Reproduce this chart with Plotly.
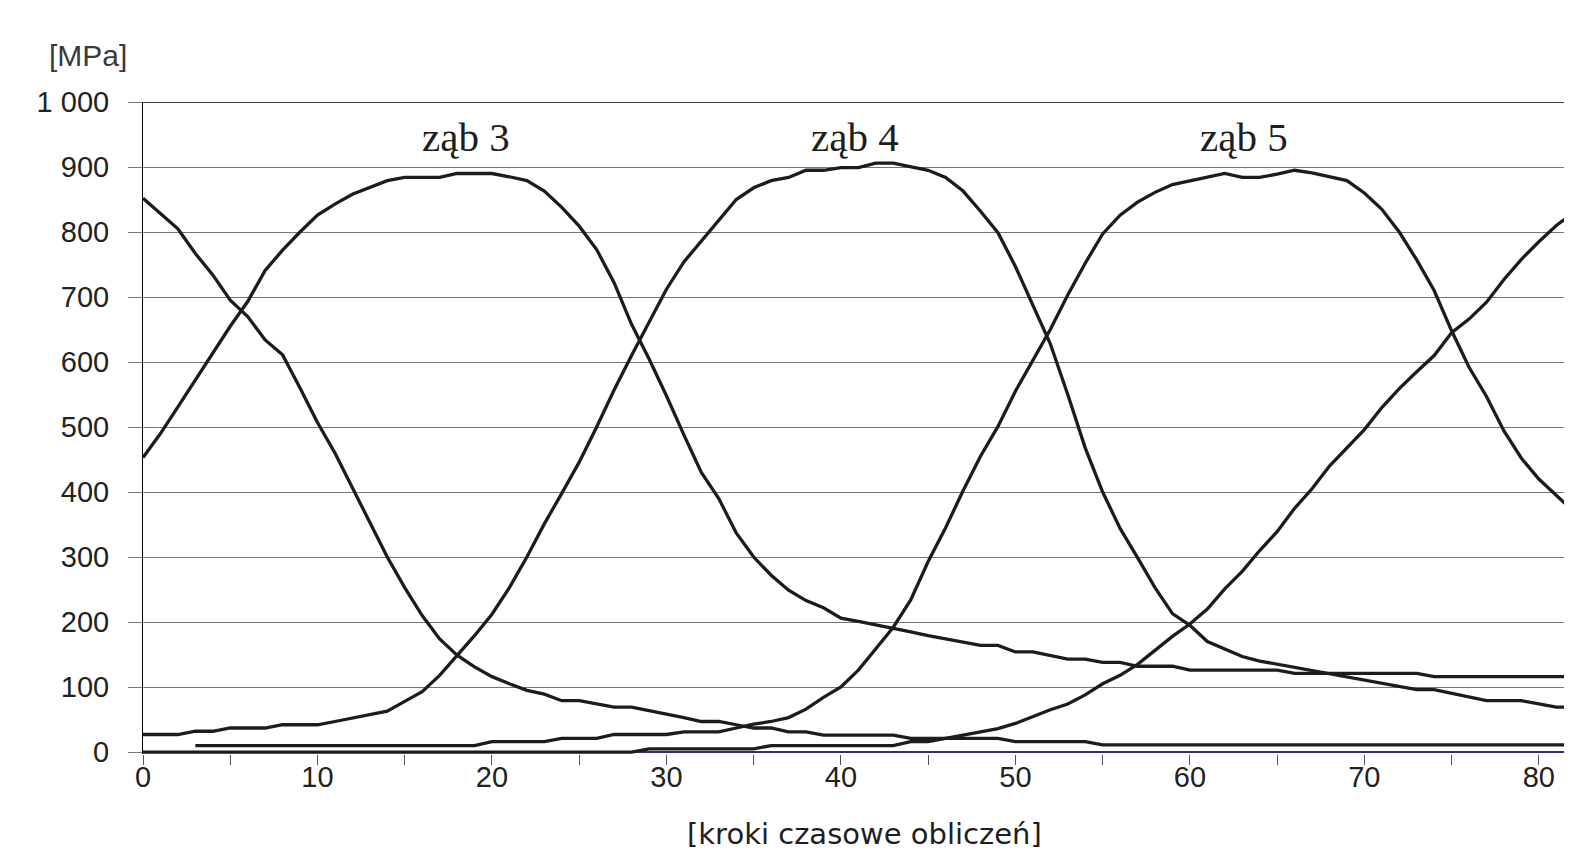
import plotly.graph_objects as go

# ---- data ----
steps = [0, 1, 2, 3, 4, 5, 6, 7, 8, 9,
         10, 11, 12, 13, 14, 15, 16, 17, 18, 19,
         20, 21, 22, 23, 24, 25, 26, 27, 28, 29,
         30, 31, 32, 33, 34, 35, 36, 37, 38, 39,
         40, 41, 42, 43, 44, 45, 46, 47, 48, 49,
         50, 51, 52, 53, 54, 55, 56, 57, 58, 59,
         60, 61, 62, 63, 64, 65, 66, 67, 68, 69,
         70, 71, 72, 73, 74, 75, 76, 77, 78, 79,
         80, 81, 82]

tooth2 = [852, 828, 805, 767, 734, 695, 670, 634, 611, 560,
          507, 460, 407, 352, 300, 253, 210, 174, 149, 131,
          116, 105, 95, 89, 79, 79, 74, 69, 69, 64,
          58, 53, 47, 47, 42, 37, 37, 31, 31, 26,
          26, 26, 26, 26, 21, 21, 21, 21, 21, 21,
          16, 16, 16, 16, 16, 11, 11, 11, 11, 11,
          11, 11, 11, 11, 11, 11, 11, 11, 11, 11,
          11, 11, 11, 11, 11, 11, 11, 11, 11, 11,
          11, 11, 11]

tooth3 = [453, 490, 531, 572, 614, 655, 693, 741, 772, 800,
          826, 843, 858, 869, 879, 884, 884, 884, 890, 890,
          890, 885, 879, 863, 838, 809, 773, 722, 658, 605,
          548, 488, 430, 390, 337, 300, 272, 249, 233, 222,
          206, 201, 196, 191, 185, 179, 174, 168, 164, 164,
          154, 154, 148, 143, 143, 138, 138, 132, 132, 132,
          126, 126, 126, 126, 126, 126, 121, 121, 121, 121,
          121, 121, 121, 121, 116, 116, 116, 116, 116, 116,
          116, 116, 116]

tooth4 = [27, 27, 27, 32, 32, 37, 37, 37, 42, 42,
          42, 47, 52, 57, 63, 78, 93, 118, 149, 179,
          212, 253, 300, 351, 398, 446, 500, 557, 610, 662,
          712, 754, 786, 818, 850, 868, 879, 884, 895, 895,
          899, 899, 906, 906, 900, 895, 884, 863, 832, 799,
          747, 688, 628, 550, 468, 400, 344, 299, 253, 213,
          195, 170, 158, 147, 140, 135, 130, 125, 120, 115,
          110, 105, 100, 96, 96, 90, 84, 79, 79, 79,
          74, 69, 69]

steps5 = [3, 4, 5, 6, 7, 8, 9,
          10, 11, 12, 13, 14, 15, 16, 17, 18, 19,
          20, 21, 22, 23, 24, 25, 26, 27, 28, 29,
          30, 31, 32, 33, 34, 35, 36, 37, 38, 39,
          40, 41, 42, 43, 44, 45, 46, 47, 48, 49,
          50, 51, 52, 53, 54, 55, 56, 57, 58, 59,
          60, 61, 62, 63, 64, 65, 66, 67, 68, 69,
          70, 71, 72, 73, 74, 75, 76, 77, 78, 79,
          80, 81, 82]

tooth5 = [10, 10, 10, 10, 10, 10, 10,
          10, 10, 10, 10, 10, 10, 10, 10, 10, 10,
          16, 16, 16, 16, 21, 21, 21, 27, 27, 27,
          27, 31, 31, 31, 37, 43, 47, 53, 66, 84,
          100, 126, 159, 192, 234, 293, 345, 402, 455, 501,
          555, 602, 650, 703, 752, 797, 826, 846, 861, 873,
          879, 884, 890, 884, 884, 889, 895, 891, 885, 879,
          860, 835, 800, 757, 710, 648, 592, 547, 494, 452,
          420, 395, 370]

tooth6 = [0, 0, 0, 0, 0, 0, 0, 0, 0, 0,
          0, 0, 0, 0, 0, 0, 0, 0, 0, 0,
          0, 0, 0, 0, 0, 0, 0, 0, 0, 5,
          5, 5, 5, 5, 5, 5, 10, 10, 10, 10,
          10, 10, 10, 10, 16, 16, 21, 26, 31, 36,
          44, 55, 65, 74, 88, 105, 118, 135, 157, 178,
          197, 220, 251, 278, 310, 339, 375, 405, 440, 468,
          496, 530, 559, 585, 610, 645, 666, 692, 727, 758,
          785, 810, 830]

y_ticks = [0, 100, 200, 300, 400, 500, 600, 700, 800, 900, 1000]
y_ticktext = ["0", "100", "200", "300", "400", "500", "600", "700", "800", "900", "1 000"]
x_ticks = [0, 10, 20, 30, 40, 50, 60, 70, 80]
x_ticktext = ["0", "10", "20", "30", "40", "50", "60", "70", "80"]

tooth_labels = ["ząb 3", "ząb 4", "ząb 5"]
tooth_label_x = [18.5, 40.8, 63.1]

# ---- geometry (page body adds an 8 px offset) ----
W, H = 1564, 846
ML, MT, MB = 135, 94, 100
PW, PH = W - ML, H - MT - MB
PBOT = MT + PH

LINE = dict(color="#1c1c1c", width=3.3)
fig = go.Figure()
for xs, ys in [(steps, tooth2), (steps, tooth3), (steps, tooth4),
               (steps5, tooth5), (steps, tooth6)]:
    fig.add_trace(go.Scatter(x=xs, y=ys, mode="lines", line=LINE,
                             hoverinfo="skip"))

tick_font = dict(family="Liberation Sans, Arial, sans-serif", size=29, color="#222222")

fig.update_layout(
    width=W, height=H,
    margin=dict(l=ML, r=0, t=MT, b=MB),
    plot_bgcolor="white", paper_bgcolor="white",
    showlegend=False,
    xaxis=dict(
        range=[0, 81.9], tickvals=x_ticks, ticktext=x_ticktext,
        ticks="outside", ticklen=10, tickwidth=1.3, tickcolor="#555555",
        minor=dict(dtick=5, tick0=0, ticks="outside", ticklen=10,
                   tickwidth=1.3, tickcolor="#555555", showgrid=False),
        showgrid=False, zeroline=False, showline=False,
        tickfont=tick_font, ticklabelstandoff=-13,
    ),
    yaxis=dict(
        range=[-3, 1000], tickvals=y_ticks, ticktext=y_ticktext,
        ticks="outside", ticklen=14, tickwidth=1.3, tickcolor="#777777",
        showgrid=True, gridcolor="#767676", gridwidth=1,
        zeroline=True, zerolinecolor="#2e3172", zerolinewidth=2,
        showline=True, linecolor="#000000", linewidth=1,
        tickfont=tick_font, ticklabelstandoff=13,
    ),
    shapes=[dict(type="line", xref="paper", yref="y", x0=0, x1=1,
                 y0=1000, y1=1000, line=dict(color="#000000", width=1.3))],
)

for txt, xv in zip(tooth_labels, tooth_label_x):
    fig.add_annotation(x=xv, y=946, xref="x", yref="y", text=txt,
                       showarrow=False, xanchor="center", yanchor="middle",
                       font=dict(family="Liberation Serif, Times New Roman, serif",
                                 size=41, color="#1e1e1e"))

fig.add_annotation(x=(80 - ML) / PW, y=(PBOT - 47.5) / PH, xref="paper", yref="paper",
                   text="[MPa]", showarrow=False, xanchor="center", yanchor="middle",
                   font=dict(family="Liberation Sans, Arial, sans-serif", size=30,
                             color="#3a3a3a"))
fig.add_annotation(x=(856.5 - ML) / PW, y=(PBOT - 826) / PH, xref="paper", yref="paper",
                   text="[kroki czasowe obliczeń]", showarrow=False,
                   xanchor="center", yanchor="middle",
                   font=dict(family="DejaVu Sans, sans-serif", size=29, color="#1e1e1e"))

fig.write_html("out.html")
